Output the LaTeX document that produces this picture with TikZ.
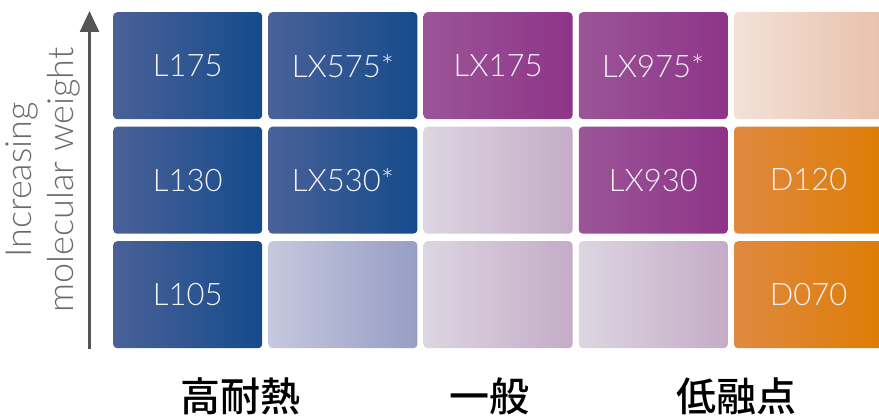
\documentclass[tikz,border=0pt]{standalone}
\usepackage{fontspec}
\usetikzlibrary{arrows.meta}
\newfontfamily\lightfont{Lato Light}
\newfontfamily\cjk{Noto Sans CJK JP Medium}
\definecolor{blueL}{HTML}{4A6198}
\definecolor{blueR}{HTML}{154B8B}
\definecolor{lblueL}{HTML}{C6C8DE}
\definecolor{lblueR}{HTML}{979EC5}
\definecolor{purL}{HTML}{9B5597}
\definecolor{purR}{HTML}{8E3489}
\definecolor{lpurL}{HTML}{DDD5E1}
\definecolor{lpurR}{HTML}{C4ACC7}
\definecolor{peachL}{HTML}{F3E1D9}
\definecolor{peachR}{HTML}{E8BFA8}
\definecolor{orL}{HTML}{E08940}
\definecolor{orR}{HTML}{DD7C00}
\definecolor{axisgray}{HTML}{555555}
\definecolor{labgray}{HTML}{6B6B6B}
\definecolor{boxtext}{HTML}{F2F2F7}
\tikzset{
  x=1pt, y=-1pt,
  cell/.style={rectangle, rounded corners=4pt, anchor=north west, inner sep=0pt,
    minimum width=149pt, minimum height=107pt, text=boxtext,
    font=\lightfont\fontsize{31}{31}\selectfont},
  wide/.style={minimum width=160pt},
  blue/.style={left color=blueL, right color=blueR},
  lblue/.style={left color=lblueL, right color=lblueR},
  pur/.style={left color=purL, right color=purR},
  lpur/.style={left color=lpurL, right color=lpurR},
  peach/.style={left color=peachL, right color=peachR},
  orng/.style={left color=orL, right color=orR},
  celltext/.style={text=boxtext, font=\lightfont\fontsize{31}{31}\selectfont},
  cat/.style={font=\cjk\fontsize{40}{40}\selectfont, text=black},
}
\begin{document}
\begin{tikzpicture}
\useasboundingbox (0,0) rectangle (879,417);
\clip (0,0) rectangle (879,417);
% row 1
\node[cell, blue]  (r1c1) at (113,12) {L175};
\node[cell, blue]  (r1c2) at (268.2,12) {LX575*};
\node[cell, pur]   (r1c3) at (423.4,12) {LX175};
\node[cell, pur]   (r1c4) at (578.6,12) {LX975*};
\node[cell, wide, peach] (r1c5) at (733.8,12) {};
% row 2
\node[cell, blue]  (r2c1) at (113,126.5) {L130};
\node[cell, blue]  (r2c2) at (268.2,126.5) {LX530*};
\node[cell, lpur]  (r2c3) at (423.4,126.5) {};
\node[cell, pur]   (r2c4) at (578.6,126.5) {LX930};
\node[cell, wide, orng] (r2c5) at (733.8,126.5) {};
\node[celltext] (d120) at (808.5,180) {D120};
% row 3
\node[cell, blue]  (r3c1) at (113,241) {L105};
\node[cell, lblue] (r3c2) at (268.2,241) {};
\node[cell, lpur]  (r3c3) at (423.4,241) {};
\node[cell, lpur]  (r3c4) at (578.6,241) {};
\node[cell, wide, orng] (r3c5) at (733.8,241) {};
\node[celltext] (d070) at (808.5,294.5) {D070};
% axis
\coordinate (abot) at (89.5,349);
\coordinate (atop) at (89.5,11);
\draw[axisgray, line width=2.5pt, -{Triangle[length=21pt, width=19pt]}] (abot) -- (atop);
\node[rotate=90, align=center, text=labgray, inner sep=0pt, font=\lightfont\fontsize{36}{42}\selectfont] (ylab) at (42.5,180) {Increasing\\molecular weight};
% categories
\node[cat] (k1) at (240,396) {高耐熱};
\node[cat] (k2) at (489,396) {一般};
\node[cat] (k3) at (736,396) {低融点};
\end{tikzpicture}
\end{document}
